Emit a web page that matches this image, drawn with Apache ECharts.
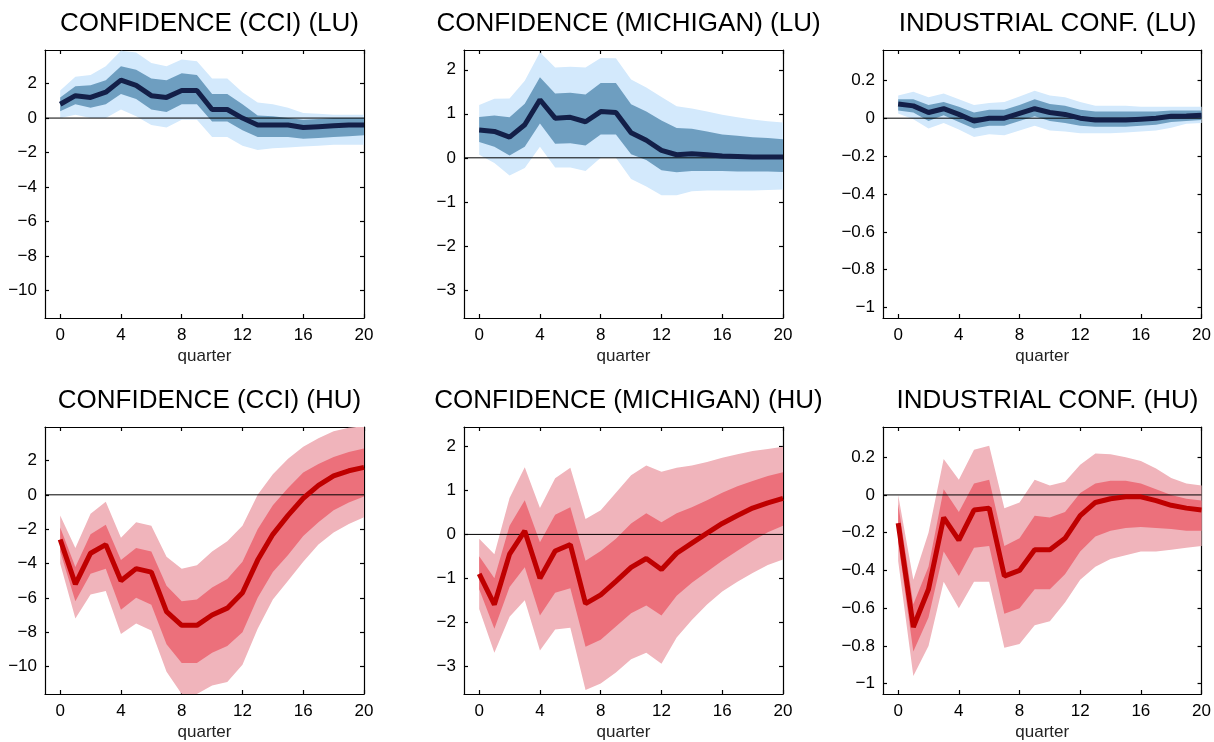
<!DOCTYPE html>
<html>
<head>
<meta charset="utf-8">
<script src="https://cdn.jsdelivr.net/npm/echarts@6/dist/echarts.min.js"></script>
<style>html,body{margin:0;padding:0;background:#fff}#main{width:1214px;height:742px}</style>
</head>
<body>
<div id="main"></div>
<script>
var quarters = [0,1,2,3,4,5,6,7,8,9,10,11,12,13,14,15,16,17,18,19,20];
var xTicks = [0,4,8,12,16,20];

// CONFIDENCE (CCI) (LU)
var cciLuMed = [0.8,1.3,1.2,1.5,2.2,1.9,1.3,1.2,1.6,1.6,0.5,0.5,0.0,-0.4,-0.4,-0.4,-0.55,-0.5,-0.45,-0.4,-0.4];
var cciLuInHi = [1.2,1.85,1.9,2.2,3.0,2.8,2.3,2.2,2.6,2.5,1.4,1.4,0.8,0.15,0.1,0,-0.1,-0.05,0,0,0];
var cciLuInLo = [0.4,0.8,0.6,0.8,1.4,1.1,0.5,0.35,0.8,0.8,-0.2,-0.2,-0.7,-1.1,-1.1,-1.1,-1.2,-1.15,-1.1,-1.05,-1.0];
var cciLuOutHi = [1.6,2.4,2.5,3.0,3.9,3.8,3.2,3.0,3.4,3.3,2.3,2.3,1.5,0.9,0.8,0.6,0.3,0.25,0.2,0.2,0.2];
var cciLuOutLo = [0,0.2,0,0,0.5,0.1,-0.4,-0.55,-0.1,-0.1,-1.1,-1.1,-1.6,-1.85,-1.75,-1.7,-1.65,-1.6,-1.55,-1.55,-1.55];

// CONFIDENCE (MICHIGAN) (LU)
var micLuMed = [0.63,0.6,0.47,0.75,1.32,0.9,0.92,0.82,1.05,1.03,0.57,0.4,0.17,0.07,0.09,0.07,0.04,0.03,0.02,0.02,0.02];
var micLuInHi = [0.93,0.96,0.92,1.23,1.83,1.46,1.48,1.44,1.7,1.7,1.22,1.05,0.85,0.68,0.66,0.6,0.53,0.5,0.47,0.45,0.42];
var micLuInLo = [0.36,0.25,0.05,0.25,0.78,0.32,0.33,0.28,0.53,0.53,0.08,-0.05,-0.28,-0.33,-0.3,-0.3,-0.3,-0.31,-0.31,-0.31,-0.32];
var micLuOutHi = [1.2,1.34,1.35,1.75,2.4,2.05,2.07,2.05,2.27,2.26,1.78,1.6,1.38,1.17,1.12,1.05,0.98,0.92,0.87,0.83,0.8];
var micLuOutLo = [0.07,-0.12,-0.4,-0.23,0.25,-0.22,-0.22,-0.3,0.0,0.0,-0.48,-0.65,-0.85,-0.85,-0.76,-0.74,-0.74,-0.74,-0.74,-0.73,-0.72];

// INDUSTRIAL CONF. (LU)
var indLuMed = [0.075,0.065,0.03,0.05,0.02,-0.015,0.0,0.0,0.025,0.05,0.03,0.02,0.0,-0.01,-0.01,-0.01,-0.005,0.0,0.01,0.012,0.015];
var indLuInHi = [0.1,0.1,0.07,0.085,0.06,0.03,0.045,0.045,0.07,0.1,0.075,0.065,0.045,0.035,0.035,0.035,0.035,0.035,0.04,0.04,0.04];
var indLuInLo = [0.04,0.03,-0.015,0.015,-0.02,-0.055,-0.04,-0.04,-0.015,0.01,-0.015,-0.025,-0.04,-0.045,-0.045,-0.045,-0.04,-0.035,-0.02,-0.015,-0.01];
var indLuOutHi = [0.12,0.14,0.11,0.13,0.1,0.07,0.08,0.085,0.115,0.145,0.12,0.11,0.085,0.065,0.065,0.065,0.06,0.06,0.06,0.06,0.06];
var indLuOutLo = [0.025,-0.005,-0.055,-0.025,-0.06,-0.1,-0.085,-0.09,-0.065,-0.04,-0.065,-0.07,-0.08,-0.08,-0.08,-0.075,-0.07,-0.065,-0.05,-0.03,-0.025];

// CONFIDENCE (CCI) (HU)
var cciHuMed = [-2.6,-5.2,-3.4,-2.9,-5.0,-4.3,-4.5,-6.8,-7.6,-7.6,-7.0,-6.6,-5.7,-3.8,-2.3,-1.2,-0.2,0.55,1.1,1.4,1.6];
var cciHuInHi = [-1.9,-4.2,-2.3,-1.75,-3.8,-3.1,-3.3,-5.3,-6.2,-6.1,-5.4,-4.9,-3.9,-2.0,-0.6,0.4,1.3,1.8,2.2,2.5,2.7];
var cciHuInLo = [-3.3,-6.2,-4.6,-4.3,-6.7,-6.0,-6.4,-8.7,-9.8,-9.8,-9.2,-8.8,-8.0,-6.0,-4.5,-3.5,-2.4,-1.6,-0.9,-0.45,-0.1];
var cciHuOutHi = [-1.2,-3.1,-1.1,-0.4,-2.5,-1.6,-1.8,-3.6,-4.3,-4.1,-3.3,-2.7,-1.8,0.0,1.2,2.1,2.8,3.3,3.7,3.9,4.0];
var cciHuOutLo = [-4.0,-7.2,-5.8,-5.6,-8.1,-7.5,-7.9,-10.3,-11.6,-11.6,-11.1,-10.9,-9.9,-7.8,-6.1,-5.0,-3.9,-2.9,-2.2,-1.7,-1.3];

// CONFIDENCE (MICHIGAN) (HU)
var micHuMed = [-0.9,-1.6,-0.45,0.08,-1.0,-0.38,-0.23,-1.58,-1.38,-1.07,-0.75,-0.55,-0.8,-0.43,-0.2,0.03,0.25,0.43,0.6,0.72,0.82];
var micHuInHi = [-0.5,-1.0,0.2,0.78,-0.18,0.45,0.62,-0.6,-0.38,-0.1,0.25,0.48,0.28,0.48,0.62,0.78,0.95,1.1,1.22,1.33,1.42];
var micHuInLo = [-1.25,-2.15,-1.2,-0.75,-1.85,-1.33,-1.23,-2.56,-2.4,-2.1,-1.8,-1.62,-1.85,-1.4,-1.1,-0.85,-0.6,-0.37,-0.15,0.05,0.2];
var micHuOutHi = [-0.1,-0.45,0.83,1.53,0.6,1.28,1.52,0.35,0.55,0.95,1.35,1.57,1.43,1.52,1.57,1.65,1.75,1.83,1.9,1.95,2.0];
var micHuOutLo = [-1.7,-2.7,-1.88,-1.5,-2.65,-2.17,-2.13,-3.55,-3.4,-3.15,-2.85,-2.7,-2.95,-2.35,-1.95,-1.6,-1.3,-1.08,-0.88,-0.7,-0.57];

// INDUSTRIAL CONF. (HU)
var indHuMed = [-0.15,-0.7,-0.5,-0.12,-0.24,-0.08,-0.07,-0.43,-0.4,-0.29,-0.29,-0.23,-0.11,-0.04,-0.02,-0.01,-0.01,-0.03,-0.055,-0.07,-0.08];
var indHuInHi = [-0.05,-0.58,-0.38,0.03,-0.09,0.06,0.08,-0.27,-0.23,-0.11,-0.12,-0.09,0.01,0.06,0.075,0.075,0.06,0.03,0.0,-0.02,-0.03];
var indHuInLo = [-0.25,-0.83,-0.65,-0.3,-0.43,-0.28,-0.27,-0.63,-0.6,-0.5,-0.5,-0.42,-0.3,-0.22,-0.19,-0.175,-0.17,-0.175,-0.18,-0.19,-0.19];
var indHuOutHi = [0.0,-0.45,-0.2,0.19,0.08,0.24,0.26,-0.07,-0.04,0.08,0.05,0.07,0.16,0.22,0.215,0.2,0.18,0.14,0.09,0.06,0.05];
var indHuOutLo = [-0.35,-0.96,-0.8,-0.46,-0.6,-0.46,-0.46,-0.81,-0.79,-0.69,-0.67,-0.57,-0.45,-0.38,-0.34,-0.32,-0.3,-0.3,-0.29,-0.28,-0.27];

var cciTicks = [-10,-8,-6,-4,-2,0,2];
var micTicks = [-3,-2,-1,0,1,2];
var indTicks = [-1,-0.8,-0.6,-0.4,-0.2,0,0.2];

var blue = {outer:'#d3e9fc', inner:'#6e9ec0', med:'#131f48'};
var red = {outer:'#f0b4bb', inner:'#ec707b', med:'#bf0000'};

var panels = [
  {title:'CONFIDENCE (CCI) (LU)', med:cciLuMed, inHi:cciLuInHi, inLo:cciLuInLo, outHi:cciLuOutHi, outLo:cciLuOutLo, min:-11.6, max:3.95, ticks:cciTicks, col:blue},
  {title:'CONFIDENCE (MICHIGAN) (LU)', med:micLuMed, inHi:micLuInHi, inLo:micLuInLo, outHi:micLuOutHi, outLo:micLuOutLo, min:-3.64, max:2.45, ticks:micTicks, col:blue},
  {title:'INDUSTRIAL CONF. (LU)', med:indLuMed, inHi:indLuInHi, inLo:indLuInLo, outHi:indLuOutHi, outLo:indLuOutLo, min:-1.055, max:0.36, ticks:indTicks, col:blue},
  {title:'CONFIDENCE (CCI) (HU)', med:cciHuMed, inHi:cciHuInHi, inLo:cciHuInLo, outHi:cciHuOutHi, outLo:cciHuOutLo, min:-11.6, max:3.95, ticks:cciTicks, col:red},
  {title:'CONFIDENCE (MICHIGAN) (HU)', med:micHuMed, inHi:micHuInHi, inLo:micHuInLo, outHi:micHuOutHi, outLo:micHuOutLo, min:-3.64, max:2.45, ticks:micTicks, col:red},
  {title:'INDUSTRIAL CONF. (HU)', med:indHuMed, inHi:indHuInHi, inLo:indHuInLo, outHi:indHuOutHi, outLo:indHuOutLo, min:-1.055, max:0.36, ticks:indTicks, col:red}
];

var lefts = [45, 464, 883];
var tops = [50, 427];
var plotW = 319, plotH = 268;
var font = 'Liberation Sans, Arial, sans-serif';

function pairs(ys){ return quarters.map(function(q,i){ return [q, ys[i]]; }); }
function fmt(v){ return v < 0 ? '\u2212' + String(-v) : String(v); }

// band: one polygon from lo/hi arrays, drawn through the axis scales
function bandSeries(k, hi, lo, color){
  var data = quarters.map(function(q,i){ return [q, lo[i], hi[i]]; });
  return {
    type:'custom', xAxisIndex:2*k, yAxisIndex:2*k, silent:true, data:data,
    encode:{x:0, y:[1,2]}, clip:true,
    renderItem:function(params, api){
      if (params.dataIndex !== 0) return null;
      var top = [], bot = [];
      for (var i = 0; i < data.length; i++) {
        top.push(api.coord([data[i][0], data[i][2]]));
        bot.unshift(api.coord([data[i][0], data[i][1]]));
      }
      return {type:'polygon', shape:{points:top.concat(bot)}, style:{fill:color}};
    }
  };
}

var grids = [], xAxes = [], yAxes = [], series = [], titles = [];
panels.forEach(function(p, k){
  var l = lefts[k % 3], t = tops[Math.floor(k / 3)];
  grids.push({left:l, top:t, width:plotW, height:plotH, show:false});
  titles.push({text:p.title, left:l + plotW/2, top:t - 44, textAlign:'center',
    textStyle:{fontFamily:font, fontSize:26, fontWeight:'normal', color:'#000'}});
  var lineStyle = {color:'#000', width:1.2};
  xAxes.push({type:'value', gridIndex:k, min:-1, max:20, position:'bottom',
    name:'quarter', nameLocation:'middle', nameGap:30,
    nameTextStyle:{fontFamily:font, fontSize:17, color:'#222'},
    axisLine:{show:true, onZero:false, lineStyle:lineStyle},
    axisTick:{show:true, inside:true, length:4, customValues:xTicks, lineStyle:lineStyle},
    axisLabel:{customValues:xTicks, fontFamily:font, fontSize:17, color:'#000', margin:9},
    splitLine:{show:false}});
  xAxes.push({type:'value', gridIndex:k, min:-1, max:20, position:'top',
    axisLine:{show:true, onZero:false, lineStyle:lineStyle},
    axisTick:{show:true, inside:true, length:4, customValues:xTicks, lineStyle:lineStyle},
    axisLabel:{show:false}, splitLine:{show:false}});
  yAxes.push({type:'value', gridIndex:k, min:p.min, max:p.max, position:'left',
    axisLine:{show:true, onZero:false, lineStyle:lineStyle},
    axisTick:{show:true, inside:true, length:4, customValues:p.ticks, lineStyle:lineStyle},
    axisLabel:{customValues:p.ticks, formatter:fmt, fontFamily:font, fontSize:17, color:'#000', margin:8},
    splitLine:{show:false}});
  yAxes.push({type:'value', gridIndex:k, min:p.min, max:p.max, position:'right',
    axisLine:{show:true, onZero:false, lineStyle:lineStyle},
    axisTick:{show:true, inside:true, length:4, customValues:p.ticks, lineStyle:lineStyle},
    axisLabel:{show:false}, splitLine:{show:false}});
  var base = {type:'line', xAxisIndex:2*k, yAxisIndex:2*k, symbol:'none', silent:true};
  series.push(bandSeries(k, p.outHi, p.outLo, p.col.outer));
  series.push(bandSeries(k, p.inHi, p.inLo, p.col.inner));
  series.push(Object.assign({}, base, {data:[[-1,0],[20,0]], lineStyle:{color:'#000', width:1}}));
  series.push(Object.assign({}, base, {data:pairs(p.med), lineStyle:{color:p.col.med, width:5}}));
});

var chart = echarts.init(document.getElementById('main'));
chart.setOption({
  animation:false,
  title:titles,
  grid:grids,
  xAxis:xAxes,
  yAxis:yAxes,
  series:series
});
</script>
</body>
</html>
